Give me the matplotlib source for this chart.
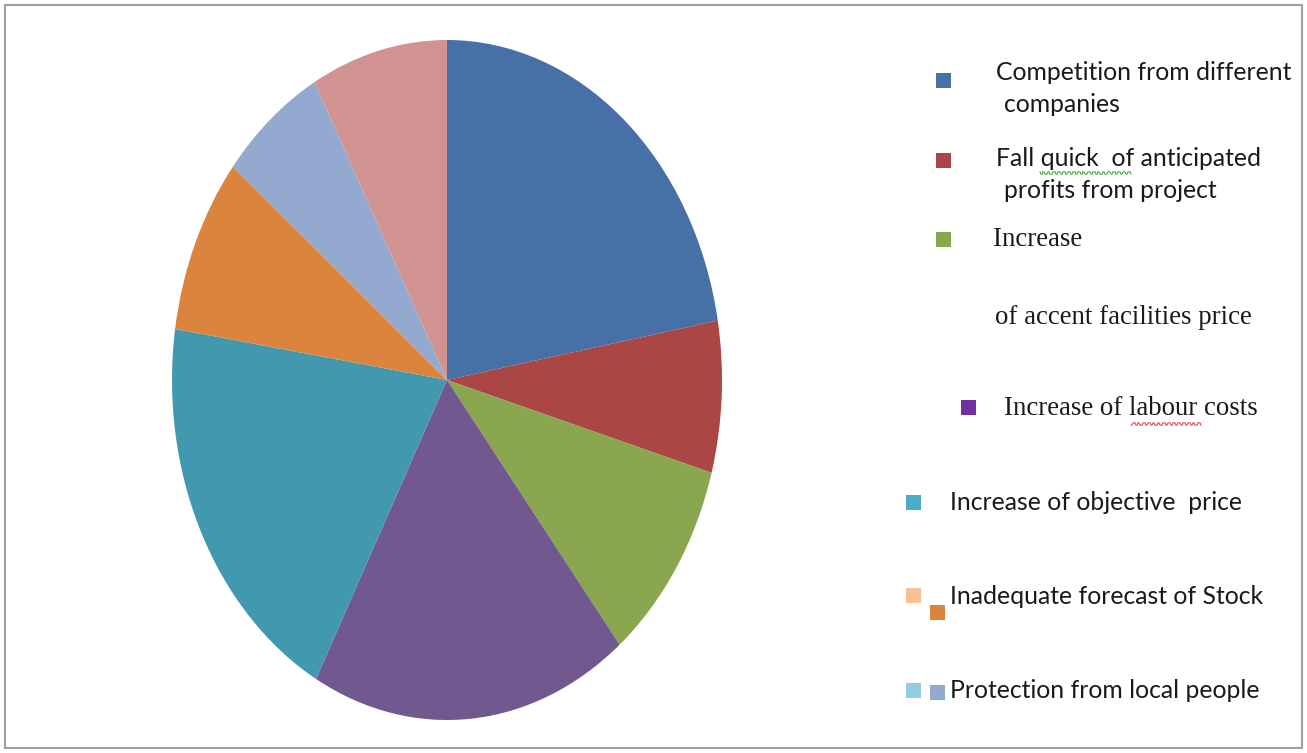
import numpy as np
import matplotlib
matplotlib.use("Agg")
from matplotlib import pyplot as plt
from matplotlib.patches import Rectangle

# slice shares (percent), clockwise from 12 o'clock
categories = ['Competition from different companies',
              'Fall quick of anticipated profits from project',
              'Increase of accent facilities price',
              'Increase of labour costs',
              'Increase of objective price',
              'Inadequate forecast of Stock',
              'Protection from local people',
              'Other']
shares = [22.2, 7.2, 9.8, 18.7, 19.5, 8.4, 6.2, 8.0]
colors = ['#4670A6', '#AA4744', '#8AA64F', '#71588F', '#4198AF',
          '#DB843D', '#93A9CF', '#D19392']

W, H = 1307, 753
fig = plt.figure(figsize=(W / 100, H / 100), dpi=100)

# frame around the whole chart
fig.patches.append(Rectangle((5 / W, 5 / H), (1302 - 5) / W, (748 - 5) / H,
                             transform=fig.transFigure, fill=False,
                             edgecolor='#A0A0A0', linewidth=1.5))

# elliptical pie: axes box is taller than wide and aspect left on auto
ax = fig.add_axes([172 / W, (H - 720) / H, 550 / W, 680 / H])
ax.pie(shares, colors=colors, startangle=90, counterclock=False,
       radius=1, wedgeprops=dict(linewidth=0))
ax.set_aspect('auto')
ax.set_xlim(-1, 1)
ax.set_ylim(-1, 1)
ax.axis('off')


def px(x, y):
    return x / W, 1 - y / H


def square(x, y, color, s=15):
    fig.patches.append(Rectangle(((x - s / 2) / W, 1 - (y + s / 2) / H), s / W, s / H,
                                 transform=fig.transFigure, facecolor=color,
                                 edgecolor='none'))


sans = ['Lato', 'DejaVu Sans']
serif = ['Liberation Serif', 'DejaVu Serif']
fs = 17.8
fs_serif = 19.3


def label(x, y, s, fam=sans, size=fs):
    fig.text(*px(x, y), s, family=fam, fontsize=size, color='#1a1a1a',
             ha='left', va='center')


# legend (hand placed like the original)
square(943, 80, colors[0])
label(996, 73, 'Competition from different')
label(1004, 105, 'companies')

square(943, 160, colors[1])
label(996, 159, 'Fall quick  of anticipated')
label(1004, 191, 'profits from project')

square(943, 240, colors[2])
label(993, 240, 'Increase', serif, fs_serif)
label(995, 317, 'of accent facilities price', serif, fs_serif)

square(968, 408, '#7030A0')
label(1004, 409, 'Increase of labour costs', serif, fs_serif)

square(913, 502, '#4BACC6')
label(950, 502, 'Increase of objective  price')

square(913, 595, '#FAC090')
square(937, 612, colors[5])
label(950, 597, 'Inadequate forecast of Stock')

square(913, 690, '#93CDDD')
square(937, 692, colors[6])
label(950, 691, 'Protection from local people')


# spell-check squiggles
def squiggle(x0, x1, y, color):
    xs = np.arange(x0, x1, 1.0)
    ys = y + 1.2 * np.sign(np.sin(xs * np.pi / 2.5))
    fig.add_artist(plt.Line2D(xs / W, 1 - ys / H, color=color, linewidth=0.7,
                              transform=fig.transFigure))


squiggle(1040, 1132, 173, '#2ca02c')
squiggle(1131, 1202, 424, '#e0302c')

fig.savefig('out.png', dpi=100)
